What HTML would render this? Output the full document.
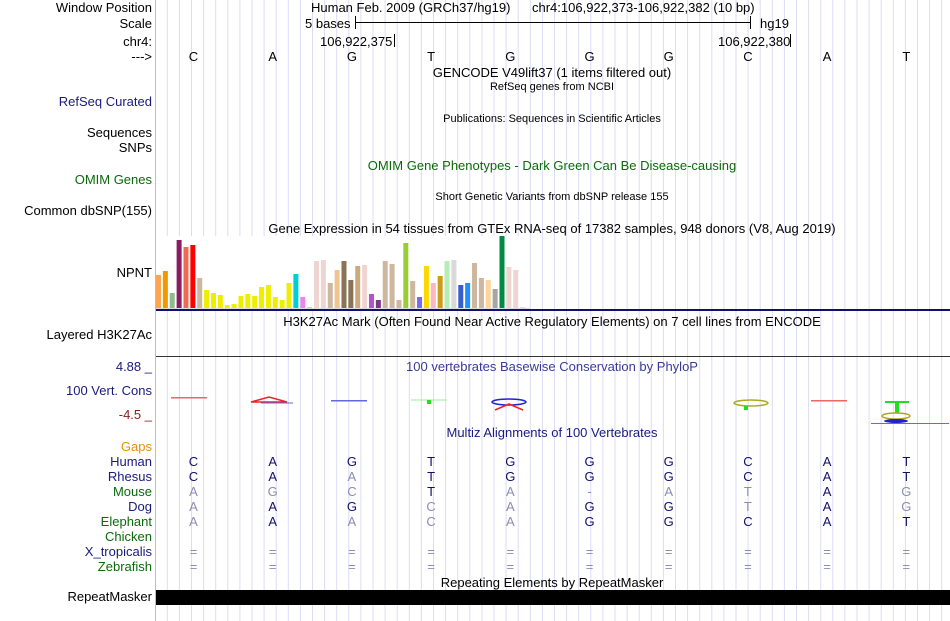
<!DOCTYPE html>
<html><head><meta charset="utf-8"><style>
body{margin:0;background:#fff;width:950px;height:621px;overflow:hidden;position:relative;font-family:"Liberation Sans",sans-serif;font-size:13px}
.t{position:absolute;white-space:nowrap;line-height:15px}
.l{position:absolute;right:798px;text-align:right;white-space:nowrap;line-height:15px}
.c{position:absolute;white-space:nowrap;transform:translateX(-50%);line-height:15px}
.s{font-size:11px}
svg{position:absolute;left:0;top:0}
</style></head><body>
<svg id="grid" width="950" height="621"></svg>

<div class="l" style="top:0px">Window Position</div>
<div class="l" style="top:16px">Scale</div>
<div class="l" style="top:34px">chr4:</div>
<div class="l" style="top:49px">---&gt;</div>
<div class="l" style="top:94px;color:#1a1a80">RefSeq Curated</div>
<div class="l" style="top:125px">Sequences</div>
<div class="l" style="top:140px">SNPs</div>
<div class="l" style="top:172px;color:#0a6a0a">OMIM Genes</div>
<div class="l" style="top:203px">Common dbSNP(155)</div>
<div class="l" style="top:265px">NPNT</div>
<div class="l" style="top:327px">Layered H3K27Ac</div>
<div class="l" style="top:359px;color:#1a1a80">4.88 _</div>
<div class="l" style="top:383px;color:#1a1a80">100 Vert. Cons</div>
<div class="l" style="top:407px;color:#8b1a1a">-4.5 _</div>
<div class="l" style="top:439px;color:#e8900a">Gaps</div>
<div class="l" style="top:454px;color:#1a1a80">Human</div>
<div class="l" style="top:469px;color:#1a1a80">Rhesus</div>
<div class="l" style="top:484px;color:#0a6a0a">Mouse</div>
<div class="l" style="top:499px;color:#1a1a80">Dog</div>
<div class="l" style="top:514px;color:#0a6a0a">Elephant</div>
<div class="l" style="top:529px;color:#0a6a0a">Chicken</div>
<div class="l" style="top:544px;color:#1a1a80">X_tropicalis</div>
<div class="l" style="top:559px;color:#0a6a0a">Zebrafish</div>
<div class="l" style="top:589px">RepeatMasker</div>

<div class="t" style="left:311px;top:0px">Human Feb. 2009 (GRCh37/hg19)</div>
<div class="t" style="left:532px;top:0px">chr4:106,922,373-106,922,382 (10 bp)</div>
<div class="t" style="left:305px;top:16px">5 bases</div>
<div class="t" style="left:760px;top:16px">hg19</div>
<div class="t" style="left:320px;top:34px">106,922,375</div>
<div class="t" style="left:718px;top:34px">106,922,380</div>
<div class="c" style="left:552px;top:65px">GENCODE V49lift37 (1 items filtered out)</div>
<div class="c s" style="left:552px;top:80px">RefSeq genes from NCBI</div>
<div class="c s" style="left:552px;top:112px">Publications: Sequences in Scientific Articles</div>
<div class="c" style="left:552px;top:158px;color:#0a6a0a">OMIM Gene Phenotypes - Dark Green Can Be Disease-causing</div>
<div class="c s" style="left:552px;top:190px">Short Genetic Variants from dbSNP release 155</div>
<div class="c" style="left:552px;top:221px">Gene Expression in 54 tissues from GTEx RNA-seq of 17382 samples, 948 donors (V8, Aug 2019)</div>
<div class="c" style="left:552px;top:314px">H3K27Ac Mark (Often Found Near Active Regulatory Elements) on 7 cell lines from ENCODE</div>
<div class="c" style="left:552px;top:359px;color:#3a3a9a">100 vertebrates Basewise Conservation by PhyloP</div>
<div class="c" style="left:552px;top:425px;color:#1a1a80">Multiz Alignments of 100 Vertebrates</div>
<div class="c" style="left:552px;top:575px">Repeating Elements by RepeatMasker</div>
<div id="txt"></div>

<script>
const bases=["C","A","G","T","G","G","G","C","A","T"];
const rhesus=["C","A","A","T","G","G","G","C","A","T"];
const mouse=["A","G","C","T","A","-","A","T","A","G"];
const dog=["A","A","G","C","A","G","G","T","A","G"];
const elephant=["A","A","A","C","A","G","G","C","A","T"];
const gtexValues=[33,37,15,68,61,63,30,18,15,13,3,4,12,14,12,21,23,11,8,25,34,11,1,47,48,25,38,47,28,42,43,14,8,47,44,8,65,27,11,42,25,32,47,48,23,25,45,30,28,19,72,41,38,1];
const gtexColors=["#FFA54F","#EE9A00","#8FBC8F","#8B1C62","#EE6A50","#FF0000","#CDB79E","#EEEE00","#EEEE00","#EEEE00","#EEEE00","#EEEE00","#EEEE00","#EEEE00","#EEEE00","#EEEE00","#EEEE00","#EEEE00","#EEEE00","#EEEE00","#00CED1","#EE82EE","#CDCDCD","#EED5D2","#EED5D2","#CDB79E","#EEC591","#8B7355","#8B7355","#CDAA7D","#EED5D2","#B452CD","#7A378B","#CDB79E","#CDB79E","#CDB79E","#9ACD32","#CDB79E","#7B68EE","#FFD700","#FFB6C1","#CD9B1D","#B4EEB4","#D9D9D9","#3A5FCD","#1E90FF","#CDB79E","#CDB79E","#FFD39B","#A6A6A6","#008B45","#EED5D2","#EED5D2","#EED5D2"];
const ns="http://www.w3.org/2000/svg";
const g=document.getElementById('grid');
function bx(i){return 193.5+79.2*i;}
function el(t,a){const e=document.createElementNS(ns,t);for(const k in a)e.setAttribute(k,a[k]);g.appendChild(e);return e;}
for(let x=167.3;x<950;x+=12.1){const ln=el('line',{x1:x,x2:x,y1:0,y2:621,stroke:'#dcdcf4','stroke-width':1});

}
let r=el('line',{x1:155.5,x2:155.5,y1:0,y2:621,stroke:'#f4a8a8'});

el('line',{x1:355,x2:751,y1:22.5,y2:22.5,stroke:'#000'});
el('line',{x1:355.5,x2:355.5,y1:16,y2:29,stroke:'#000'});
el('line',{x1:750.5,x2:750.5,y1:16,y2:29,stroke:'#000'});
el('line',{x1:394.5,x2:394.5,y1:34,y2:47,stroke:'#000'});
el('line',{x1:790.5,x2:790.5,y1:34,y2:47,stroke:'#000'});
const base=308,maxH=72,pxH=72;
el('rect',{x:156,y:236,width:373,height:72,fill:'#fff'});
gtexValues.forEach((v,i)=>{const h=v/maxH*pxH;const b=el('rect',{x:156+i*6.87,y:base-h,width:5,height:h,fill:gtexColors[i]});

});
el('line',{x1:156,x2:530,y1:308.5,y2:308.5,stroke:'#ddd'});
let nl=el('rect',{x:156,y:309,width:794,height:2,fill:'#10106e'});

el('line',{x1:156,x2:950,y1:356.5,y2:356.5,stroke:'#333'});
const sh=[[171,398,'#e66','flat'],[251,402,'#e22','tri'],[331,401,'#66d','flat'],[411,400,'#2d2','t'],[491,404,'#22c','x'],[731,403,'#aa2','o'],[811,401,'#e66','flat'],[893,412,'#2d2','big']];
sh.forEach(s=>{const [x,y,c,k]=s;
if(k==='flat')el('rect',{x:x,y:y-1,width:36,height:1.5,fill:c});
if(k==='tri'){el('path',{d:`M${x} ${y}L${x+18} ${y-5}L${x+36} ${y}Z`,fill:'none',stroke:'#e22','stroke-width':1.5});el('line',{x1:x+10,x2:x+42,y1:y+1,y2:y+1,stroke:'#66d'});}
if(k==='t'){el('line',{x1:x,x2:x+36,y1:y,y2:y,stroke:'#9e9'});el('rect',{x:x+16,y:y,width:4,height:4,fill:'#2d2'});}
if(k==='x'){el('ellipse',{cx:x+18,cy:y-2,rx:17,ry:3,fill:'none',stroke:'#22c','stroke-width':1.5});el('path',{d:`M${x+4} ${y+6}L${x+18} ${y}L${x+32} ${y+6}`,fill:'none',stroke:'#e22','stroke-width':1.5});}
if(k==='o'){el('ellipse',{cx:x+20,cy:y,rx:17,ry:3,fill:'none',stroke:'#aa2','stroke-width':1.5});el('rect',{x:x+13,y:y+3,width:4,height:4,fill:'#2d2'});}
if(k==='big'){el('line',{x1:x-8,x2:x+16,y1:y-10,y2:y-10,stroke:'#2d2','stroke-width':2});el('rect',{x:x+2,y:y-10,width:4,height:11,fill:'#2d2'});el('ellipse',{cx:x+3,cy:y+4,rx:14,ry:3,fill:'none',stroke:'#aa2','stroke-width':1.5});el('ellipse',{cx:x+3,cy:y+9,rx:12,ry:2,fill:'#22c'});el('line',{x1:x-22,x2:x+56,y1:y+11.5,y2:y+11.5,stroke:'#e2e'});}
});
let rm=el('rect',{x:156,y:590,width:794,height:15,fill:'#000'});

const txt=document.getElementById('txt');
function row(arr,top,ref,name){arr.forEach((b,i)=>{const d=document.createElement('div');d.className='c';d.style.left=bx(i)+'px';d.style.top=top+'px';
const dark=ref?b===ref[i]:true;d.style.color=ref?(dark?'#10106e':'#8c8cb4'):'#000';d.textContent=b;


txt.appendChild(d);});}
row(bases,49,null,'base-letter');
row(bases,454,bases,'human-base');
row(rhesus,469,bases,'rhesus-base');
row(mouse,484,bases,'mouse-base');
row(dog,499,bases,'dog-base');
row(elephant,514,bases,'elephant-base');
const eq=bases.map(()=>"=");
row(eq,544,bases,'xtropicalis-base');
row(eq,559,bases,'zebrafish-base');
</script>
</body></html>
